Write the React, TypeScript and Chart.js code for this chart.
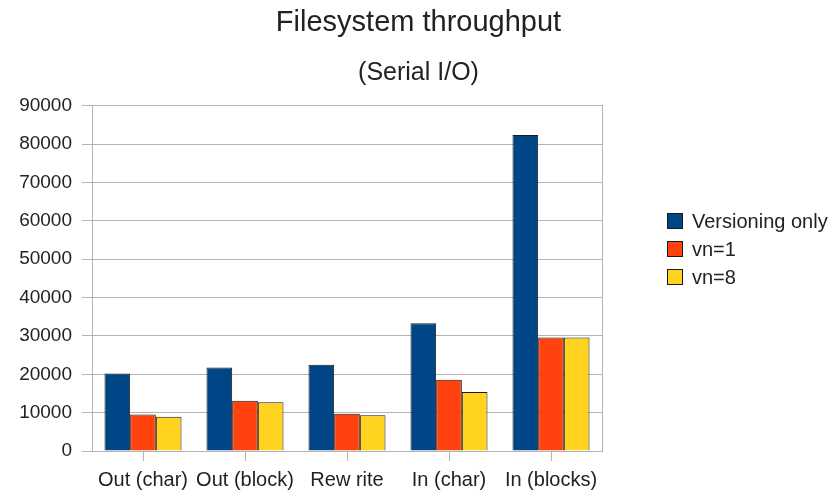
import React, { useEffect, useRef } from "react";
import { Chart, registerables } from "chart.js";

Chart.register(...registerables);

const categories = ["Out (char)", "Out (block)", "Rew rite", "In (char)", "In (blocks)"];
const versioningOnly = [20200, 21800, 22500, 33300, 82400];
const vn1 = [9500, 13100, 9700, 18600, 29600];
const vn8 = [8900, 12700, 9300, 15400, 29600];
const seriesNames = ["Versioning only", "vn=1", "vn=8"];
const seriesColors = ["#004586", "#ff420e", "#ffd320"];
const titleText = "Filesystem throughput";
const subtitleText = "(Serial I/O)";

const FONT = "'Liberation Sans', Arial, sans-serif";
const GRID = "#b3b3b3";
const TEXT = "#222222";

const sideLegend = {
  id: "sideLegend",
  afterDraw(chart: any) {
    const { ctx, chartArea } = chart;
    ctx.save();
    const ds = chart.data.datasets;
    const x = chartArea.right + 65;
    const step = 28;
    const midY = chart.height / 2 + 2;
    ctx.font = `20px ${FONT}`;
    ctx.textBaseline = "middle";
    ctx.textAlign = "left";
    ds.forEach((d: any, i: number) => {
      const cy = midY + (i - (ds.length - 1) / 2) * step;
      ctx.fillStyle = d.backgroundColor;
      ctx.fillRect(x, cy - 8, 16, 16);
      ctx.strokeStyle = "#1a1a1a";
      ctx.lineWidth = 1;
      ctx.strokeRect(x + 0.5, cy - 7.5, 15, 15);
      ctx.fillStyle = TEXT;
      ctx.fillText(d.label, x + 25, cy + 1);
    });
    ctx.restore();
  },
};

export default function App() {
  const ref = useRef<HTMLCanvasElement | null>(null);
  useEffect(() => {
    if (!ref.current) return;
    const values = [versioningOnly, vn1, vn8];
    const chart = new Chart(ref.current, {
      type: "bar",
      data: {
        labels: categories,
        datasets: values.map((v, i) => ({
          label: seriesNames[i],
          data: v,
          backgroundColor: seriesColors[i],
          borderColor: "#1a1a1a",
          borderWidth: 1,
          categoryPercentage: 0.755,
          barPercentage: 1,
        })),
      },
      options: {
        animation: false,
        responsive: false,
        maintainAspectRatio: false,
        layout: { padding: 0 },
        plugins: {
          title: {
            display: true,
            text: titleText,
            color: TEXT,
            font: { family: FONT, size: 29, weight: "normal" },
            padding: { top: 6, bottom: 17 },
          },
          subtitle: {
            display: true,
            text: subtitleText,
            color: TEXT,
            font: { family: FONT, size: 25, weight: "normal" },
            padding: { top: 0, bottom: 18 },
          },
          legend: { display: false },
          tooltip: { enabled: false },
        },
        scales: {
          x: {
            grid: {
              offset: false,
              drawOnChartArea: false,
              color: GRID,
              tickLength: 10,
            },
            border: { color: GRID },
            ticks: {
              color: TEXT,
              font: { family: FONT, size: 20 },
              padding: 7,
              maxRotation: 0,
              autoSkip: false,
            },
            afterFit: (s: any) => {
              s.height = 43;
            },
          },
          y: {
            min: 0,
            max: 90000,
            ticks: {
              stepSize: 10000,
              color: TEXT,
              font: { family: FONT, size: 19 },
              padding: 10,
              callback: (v: any) => String(v),
            },
            grid: { color: GRID, tickLength: 10 },
            border: { color: GRID },
            afterFit: (s: any) => {
              s.width = 92;
            },
          },
          y2: {
            position: "right",
            min: 0,
            max: 90000,
            ticks: { display: false },
            grid: { drawOnChartArea: false, drawTicks: false },
            border: { color: GRID },
            afterFit: (s: any) => {
              s.width = 235;
            },
          },
        },
      } as any,
      plugins: [sideLegend],
    });
    return () => chart.destroy();
  }, []);
  return (
    <div style={{ position: "absolute", left: 0, top: 0, width: 837, height: 494, background: "#fff" }}>
      <canvas ref={ref} width={837} height={494} style={{ width: 837, height: 494 }} />
    </div>
  );
}
